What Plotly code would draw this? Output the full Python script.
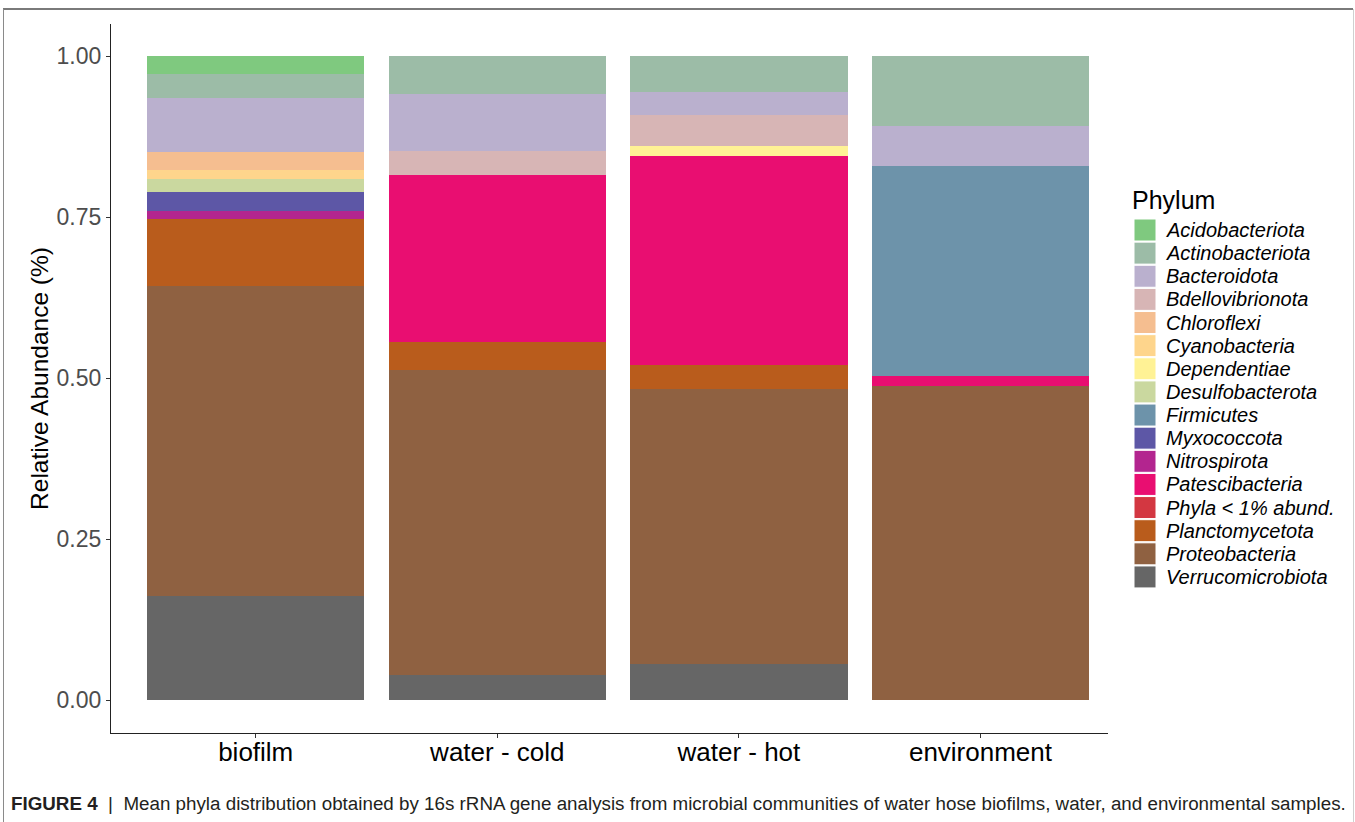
import plotly.graph_objects as go

samples = ["biofilm", "water - cold", "water - hot", "environment"]

phyla = [
    "Acidobacteriota", "Actinobacteriota", "Bacteroidota", "Bdellovibrionota",
    "Chloroflexi", "Cyanobacteria", "Dependentiae", "Desulfobacterota",
    "Firmicutes", "Myxococcota", "Nitrospirota", "Patescibacteria",
    "Phyla < 1% abund.", "Planctomycetota", "Proteobacteria", "Verrucomicrobiota",
]

colors = [
    "#7FC97F", "#9CBCA7", "#BAB0CE", "#D7B5B5",
    "#F5BE90", "#FED58C", "#FFF295", "#CAD89F",
    "#6D93AA", "#5D57A6", "#B3258F", "#E90E71",
    "#D33741", "#B95C1C", "#8F6141", "#666666",
]

# relative abundance per phylum: biofilm, water-cold, water-hot, environment
acidobacteriota   = [0.027, 0.000, 0.000, 0.000]
actinobacteriota  = [0.038, 0.058, 0.056, 0.109]
bacteroidota      = [0.083, 0.089, 0.035, 0.062]
bdellovibrionota  = [0.000, 0.038, 0.048, 0.000]
chloroflexi       = [0.029, 0.000, 0.000, 0.000]
cyanobacteria     = [0.014, 0.000, 0.000, 0.000]
dependentiae      = [0.000, 0.000, 0.016, 0.000]
desulfobacterota  = [0.020, 0.000, 0.000, 0.000]
firmicutes        = [0.000, 0.000, 0.000, 0.325]
myxococcota       = [0.029, 0.000, 0.000, 0.000]
nitrospirota      = [0.012, 0.000, 0.000, 0.000]
patescibacteria   = [0.000, 0.259, 0.324, 0.016]
phyla_lt1         = [0.000, 0.000, 0.000, 0.000]
planctomycetota   = [0.104, 0.043, 0.037, 0.000]
proteobacteria    = [0.482, 0.473, 0.427, 0.488]
verrucomicrobiota = [0.162, 0.040, 0.057, 0.000]

values = [
    acidobacteriota, actinobacteriota, bacteroidota, bdellovibrionota,
    chloroflexi, cyanobacteria, dependentiae, desulfobacterota,
    firmicutes, myxococcota, nitrospirota, patescibacteria,
    phyla_lt1, planctomycetota, proteobacteria, verrucomicrobiota,
]

y_ticks = [0.0, 0.25, 0.5, 0.75, 1.0]
y_ticklabels = ["0.00", "0.25", "0.50", "0.75", "1.00"]

legend_title = "Phylum"
caption = ("<b>FIGURE 4</b>  |  Mean phyla distribution obtained by 16s rRNA gene analysis "
           "from microbial communities of water hose biofilms, water, and environmental samples.")

FONT = "Liberation Sans, Arial, Helvetica, sans-serif"

fig = go.Figure()
# stack bottom-up: last phylum at the bottom
for name, col, vals in reversed(list(zip(phyla, colors, values))):
    fig.add_trace(go.Bar(
        x=samples, y=vals, name=name,
        marker=dict(color=col, line=dict(width=0)),
        showlegend=False,
    ))

L, R, T, B = 111, 247, 24, 89
W, H = 1355, 822
pw, ph = W - L - R, H - T - B

def px_x(px):
    return (px - L) / pw

def px_y(py):
    return (H - B - py) / ph

annotations = []
shapes = []

# legend (ggplot-style, built from the phyla / colors lists)
annotations.append(dict(
    text=legend_title, xref="paper", yref="paper",
    x=px_x(1130), y=px_y(200), xanchor="left", yanchor="middle",
    showarrow=False, font=dict(size=25, family=FONT, color="black"),
))
key_top, key_step, key_size = 230, 23.13, 22
for i, (name, col) in enumerate(zip(phyla, colors)):
    cy = key_top + i * key_step
    shapes.append(dict(
        type="rect", xref="paper", yref="paper",
        x0=px_x(1134), x1=px_x(1134 + key_size),
        y0=px_y(cy - key_size / 2), y1=px_y(cy + key_size / 2),
        fillcolor=col, line=dict(color="white", width=1),
    ))
    annotations.append(dict(
        text=name, xref="paper", yref="paper",
        x=px_x(1164), y=px_y(cy), xanchor="left", yanchor="middle",
        showarrow=False, font=dict(size=20, family=FONT, color="black", style="italic"),
    ))

annotations.append(dict(
    text=caption, xref="paper", yref="paper",
    x=px_x(9), y=px_y(803), xanchor="left", yanchor="middle",
    showarrow=False,
    font=dict(size=18.8, family=FONT, color="#231f20"),
))

shapes += [
    dict(type="line", xref="paper", yref="paper", x0=px_x(3), x1=px_x(1353), y0=px_y(9), y1=px_y(9),
         line=dict(color="#7a7a7a", width=2)),
    dict(type="line", xref="paper", yref="paper", x0=px_x(3.5), x1=px_x(3.5), y0=px_y(9), y1=px_y(830),
         line=dict(color="#8a8a8a", width=1)),
    dict(type="line", xref="paper", yref="paper", x0=px_x(1353.5), x1=px_x(1353.5), y0=px_y(9), y1=px_y(830),
         line=dict(color="#d0d0d0", width=1)),
]

fig.update_layout(
    width=W, height=H,
    margin=dict(l=L, r=R, t=T, b=B, pad=0),
    paper_bgcolor="white", plot_bgcolor="white",
    barmode="stack", bargap=0.1,
    font=dict(family=FONT, color="black"),
    xaxis=dict(
        type="category", range=[-0.599, 3.528],
        showline=True, linecolor="#222222", linewidth=1.2,
        ticks="outside", ticklen=4, tickcolor="#333333", tickwidth=1,
        tickfont=dict(size=26, color="black"),
        ticklabelstandoff=-8,
        showgrid=False, zeroline=False,
    ),
    yaxis=dict(
        range=[-0.0508, 1.050],
        tickvals=y_ticks, ticktext=y_ticklabels,
        showline=True, linecolor="#222222", linewidth=1.2,
        ticks="outside", ticklen=4, tickcolor="#333333", tickwidth=1,
        tickfont=dict(size=23, color="#4d4d4d"),
        showgrid=False, zeroline=False,
        title=dict(text="Relative Abundance (%)", font=dict(size=24.5, color="black"), standoff=0),
    ),
    showlegend=False,
    annotations=annotations,
    shapes=shapes,
)

fig.write_html("out.html", config={"displayModeBar": False},
               post_script="document.body.style.margin='0';")
